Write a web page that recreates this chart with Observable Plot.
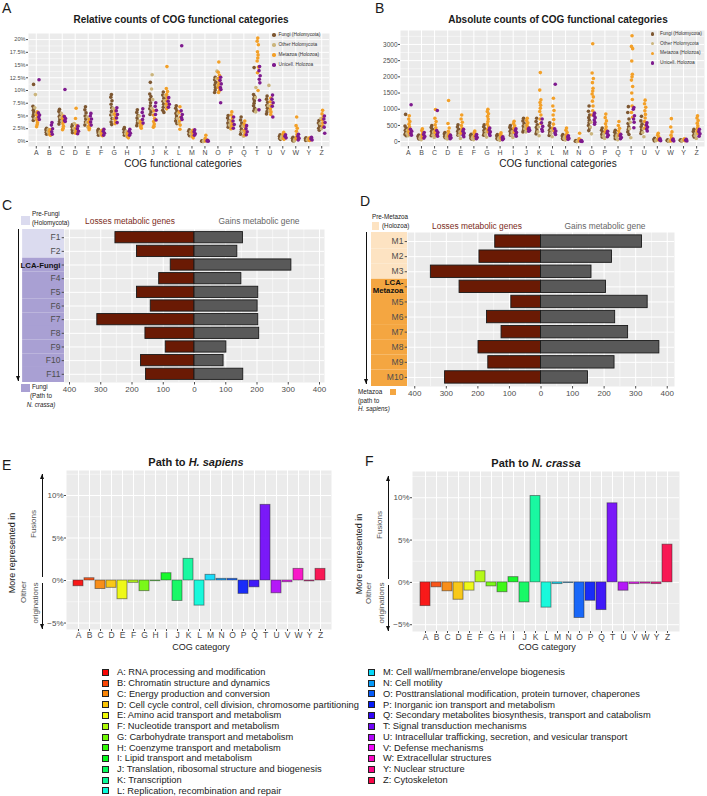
<!DOCTYPE html>
<html><head><meta charset="utf-8">
<script src="https://cdn.jsdelivr.net/npm/d3@7"></script>
<script src="https://cdn.jsdelivr.net/npm/@observablehq/plot@0.6"></script>
<style>
body{margin:0;background:#fff;font-family:"Liberation Sans",Arial,sans-serif;}
#root{position:relative;width:707px;height:796px;overflow:hidden;background:#fff;}
</style></head><body><div id="root"></div>
<script>
// ---------------- DATA ----------------
const cogCats = ["A","B","C","D","E","F","G","H","I","J","K","L","M","N","O","P","Q","T","U","V","W","Y","Z"];
const cogDescriptions = [
"RNA processing and modification","Chromatin structure and dynamics","Energy production and conversion",
"Cell cycle control, cell division, chromosome partitioning","Amino acid transport and metabolism",
"Nucleotide transport and metabolism","Carbohydrate transport and metabolism","Coenzyme transport and metabolism",
"Lipid transport and metabolism","Translation, ribosomal structure and biogenesis","Transcription",
"Replication, recombination and repair","Cell wall/membrane/envelope biogenesis","Cell motility",
"Posttranslational modification, protein turnover, chaperones","Inorganic ion transport and metabolism",
"Secondary metabolites biosynthesis, transport and catabolism","Signal transduction mechanisms",
"Intracellular trafficking, secretion, and vesicular transport","Defense mechanisms","Extracellular structures",
"Nuclear structure","Cytoskeleton"];
const groupNames = ["Fungi (Holomycota)","Other Holomycota","Metazoa (Holozoa)","Unicell. Holozoa"];

// Panel A: relative counts (%) per category, per group
const relFungi = [
[11.2,6.9,6.5,6.1,5.7,5.3,4.9,4.5,4.1],[2.6,2.3,2.0,1.8,1.6,1.4],[6.3,5.9,5.4,4.9,4.4,3.9,3.4],[3.3,2.9,2.6,2.3,2.0,1.7],
[6.8,6.2,5.6,5.0,4.4,3.8,3.2],[2.4,2.1,1.9,1.7,1.5,1.2],[9.2,8.7,8.0,7.3,6.6,5.9,5.2,4.5,3.8,3.3],[2.7,2.4,2.1,1.8,1.5,1.2],
[6.2,5.7,5.1,4.6,4.1,3.6,3.1],[11.6,9.3,8.8,8.2,7.6,7.0,6.4,5.8,5.3],[9.7,9.1,8.5,7.9,7.3,6.7,6.1,5.7],[7.0,6.5,6.0,5.5,5.0,4.5,4.0,3.5],
[2.3,2.0,1.7,1.4,1.1],[0.12,0.05,0.0],[12.6,12.1,11.6,11.1,10.6,10.1,9.6],[5.1,4.6,4.1,3.6,3.2,2.8],
[4.8,4.2,3.6,3.0,2.4,1.9,1.4],[14.5,9.2,8.8,8.4,8.0,7.5,7.0,6.5,6.0],[8.9,8.3,7.7,7.1,6.5,5.9,5.4],[1.3,1.0,0.8,0.6,0.4],
[0.8,0.6,0.4,0.2,0.1],[0.7,0.5,0.3,0.2],[4.1,3.6,3.1,2.6,2.2]];
const relOther = [
[9.2,6.6,5.4,4.5],[2.4,1.9,1.5],[5.5,4.7,4.0],[3.5,2.6,2.0],[4.8,3.7,2.8],[2.0,1.6,1.3],[6.5,5.3,4.5],[2.0,1.5,1.0],
[5.0,4.0,3.2],[13.1,10.3,8.2,6.5],[9.0,8.0,7.0],[5.5,4.5,3.6],[2.0,1.5,1.0],[0.2,0.0],[13.8,12.3,11.0],[4.0,3.2,2.5],
[3.0,2.0,1.0],[10.6,8.6,6.2,5.8],[11.0,7.0,6.0],[1.0,0.6],[0.4,0.1],[0.5,0.3],[4.5,3.5,2.5]];
const relMetazoa = [
[5.8,5.2,4.7,4.2,3.7,3.3,2.9],[2.3,2.0,1.7,1.4,1.2],[5.0,4.5,4.0,3.5,3.0,2.6,2.3],[6.5,4.5,3.1,2.6,2.2,1.8,1.6],
[4.3,3.8,3.4,3.0,2.6,2.3],[2.2,1.9,1.6,1.3,1.1],[6.0,5.4,4.9,4.4,3.9,3.5],[1.8,1.5,1.2,0.9,0.7],[4.0,3.6,3.2,2.9,2.6],
[6.0,5.2,4.5,3.9,3.4,3.0,2.8],[14.7,10.4,9.8,9.2,8.6,8.0,7.4,6.8,6.4],[6.8,5.8,4.8,4.0,3.2,2.4],[2.2,1.8,1.4,1.0,0.7],
[1.2,0.6,0.3,0.1],[15.6,13.6,13.0,12.4,11.8,11.2,10.6,10.0,9.6],[5.8,5.2,4.6,4.0,3.5,3.0,2.5],[4.0,3.4,2.8,2.2,1.6,1.2],
[20.3,19.7,19.0,17.6,17.0,16.4,15.8,14.6,13.5,10.0],[8.5,7.8,7.1,6.4,5.8,5.3],[1.8,1.4,1.0,0.6,0.4],
[4.8,3.1,2.6,2.0,1.4,0.9,0.5],[0.7,0.5,0.3,0.2],[6.1,5.4,4.8,4.2,3.6,3.0]];
const relUnicell = [
[12.1,5.6,5.2,4.8,4.3],[3.7,3.2,2.5,1.9,1.4],[10.2,4.9,4.5,4.1,3.9],[3.0,2.5,2.0,1.5],[5.5,5.0,4.4,3.8,3.2],[2.4,2.0,1.6,1.2],
[6.6,6.0,5.3,4.6,3.7],[2.4,2.0,1.6,1.2],[6.4,5.7,5.0,4.3,3.6],[7.6,6.9,6.1,5.3,4.2],[8.6,7.9,7.3,6.7],[18.8,6.0,5.3,4.7,4.3],
[2.3,1.9,1.5,1.2],[0.2,0.1,0.05],[12.6,12.0,11.3,10.6,10.2,7.6],[4.8,4.0,3.3,2.6],[3.1,2.5,1.9,1.3],
[14.7,13.9,12.9,12.2,11.5,8.1,6.2],[9.1,8.3,7.6,6.9,4.8],[1.3,1.0,0.7],[1.4,1.0,0.6,0.3],[0.8,0.5,0.3],[5.0,4.4,3.7,2.8,1.6]];

// Panel B: absolute counts per category, per group
const absFungi = [
[840,480,420,350,300,260,220,180],[200,170,140,110,80],[500,440,380,320,270,220,180],[280,240,200,160,120],
[520,450,380,320,260,200],[230,190,150,110,80],[520,460,400,340,290,240,200],[220,180,140,100,70],
[500,440,380,320,260,200],[720,640,560,480,420,360,300],[720,620,520,440,360,300,240],[580,500,420,350,290,240,190],
[220,180,140,100,70],[30,15,5],[1100,940,820,740,660,580,500,420,340],[420,350,290,230,180,140],[350,290,230,180,130,90],
[1080,900,700,560,460,380,300,220],[780,640,540,460,380,310,250],[100,75,50,25],[60,35,15],[60,40,20],[380,310,250,190,140]];
const absOther = [
[350,250,180],[150,100,60],[300,200,130],[200,130,80],[300,200,100],[150,100,60],[320,220,140],[120,80,40],[300,200,130],
[500,400,300],[450,300,180],[350,250,150],[150,100,50],[20,5],[600,450,240],[250,170,100],[200,130,60],[600,400,120],
[400,280,150],[60,30],[40,10],[40,20],[250,180,100]];
const absMetazoa = [
[800,700,620,540,460,380,300,220],[400,340,280,220,160,120],[990,720,620,520,430,350,280,200],[1270,560,420,320,240,170],
[820,700,600,500,410,330,260],[330,280,230,180,140],[1000,930,860,780,700,620,540,460,380,300],[270,220,170,120,90],
[630,560,490,420,350,280],[720,650,580,510,450,390],[2130,1590,1290,1210,1120,1030,930,820,700,560],
[1340,1100,960,820,680,540,420,330],[420,350,280,210,150,110],[260,90,50,20],
[3020,2120,1950,1820,1650,1560,1470,1380,1250,1100,950,820],[850,740,640,550,460,380,300],[620,500,410,330,250,180],
[3270,2940,2870,2490,2080,2000,1900,1700,1500,1300,1100,900,750],[1280,1170,1060,950,840,730,620,510,420],
[260,200,140,90,50],[710,450,300,200,120,60,20],[90,60,30],[800,730,650,570,490,410,330,250]];
const absUnicell = [
[1140,380,320,260,200],[280,220,160,110],[960,340,280,220,170],[200,160,120,90],[380,320,260,200,150],[220,170,130,90],
[420,360,300,240,190],[150,120,90,60],[400,340,280,220,170],[420,390,350,320],[700,580,470,380,320],[1770,400,330,270,220],
[180,140,100,70],[30,15,5],[880,810,740,670,600,540],[320,260,200,150],[230,180,130,90],[1050,1000,800,700,600,430],
[580,510,450,390,330],[90,60,30],[80,50,20],[70,40,20],[380,310,240,170]];

// Panel C: path to N. crassa
const fungiSteps = ["F1","F2","LCA-Fungi","F4","F5","F6","F7","F8","F9","F10","F11"];
const fungiLosses = [253,184,76,113,184,140,311,157,92,171,155];
const fungiGains  = [155,137,310,150,204,202,204,207,102,93,156];
const fungiPreCount = 2;
// Panel D: path to H. sapiens
const metazoaSteps = ["M1","M2","M3","LCA-\nMetazoa","M5","M6","M7","M8","M9","M10"];
const metazoaLosses = [145,195,349,258,94,171,125,198,167,304];
const metazoaGains  = [320,225,160,206,338,235,276,375,233,149];
const metazoaPreCount = 3;
// Panels E, F: % difference (fusions vs other originations)
const hsapiensPct = [-0.67,0.27,-1.0,-0.86,-2.2,-0.27,-1.25,-0.08,0.86,-2.4,2.55,-2.95,0.67,0.2,0.2,-1.57,-0.8,8.9,-1.5,-0.2,1.37,-0.1,1.37];
const ncrassaPct  = [-2.8,-0.58,-1.05,-2.05,-0.97,1.32,-0.47,-1.16,0.62,-2.36,10.2,-2.98,-0.2,-0.08,-4.2,-2.17,-3.27,9.34,-0.98,-0.2,-0.15,-0.2,4.46];

// ---------------- STYLE ----------------
const groupColors = ["#7d5731","#cbb57d","#f3a028","#7e1a8e"];
const rainbow = cogCats.map((c,i) => d3.hsl(i*360/cogCats.length, 0.95, 0.5).formatHex());
const panelBg = "#ebebeb", axisGray = "#4d4d4d";
const plotStyle = {background:"transparent", overflow:"visible", fontFamily:"Liberation Sans, Arial, sans-serif"};
const root = document.getElementById("root");

function place(svg, left, top){
  svg.style.position = "absolute"; svg.style.left = left+"px"; svg.style.top = top+"px";
  root.appendChild(svg); return svg;
}
function addText(html, x, y, o = {}) {
  const d = document.createElement("div");
  d.innerHTML = html;
  const tx = o.anchor === "middle" ? "-50%" : o.anchor === "end" ? "-100%" : "0";
  let t = `translate(${tx},-50%)`;
  if (o.rotate) t = `translate(-50%,-50%) rotate(${o.rotate}deg)`;
  Object.assign(d.style, {position:"absolute", left:x+"px", top:y+"px", transform:t, whiteSpace:"nowrap",
    lineHeight:"1.15", fontSize:(o.size||8)+"px", fontWeight:o.weight||"normal", color:o.color||"#1a1a1a",
    fontStyle:o.italic?"italic":"normal", textAlign:o.align||"left"});
  root.appendChild(d);
}
function addBox(x, y, w, h, fill, stroke) {
  const d = document.createElement("div");
  Object.assign(d.style, {position:"absolute", left:x+"px", top:y+"px", width:w+"px", height:h+"px",
    background:fill, boxSizing:"border-box", border: stroke ? `1px solid ${stroke}` : "none"});
  root.appendChild(d);
}
function addDot(x, y, r, fill) {
  const d = document.createElement("div");
  Object.assign(d.style, {position:"absolute", left:(x-r)+"px", top:(y-r)+"px", width:2*r+"px", height:2*r+"px",
    borderRadius:"50%", background:fill});
  root.appendChild(d);
}
function vArrow(x, yFrom, yTo, color = "#111") {
  const top = Math.min(yFrom, yTo), h = Math.abs(yTo - yFrom);
  const line = document.createElement("div");
  Object.assign(line.style, {position:"absolute", left:(x-0.5)+"px", top:top+"px", width:"0", height:h+"px", borderLeft:`1px solid ${color}`});
  root.appendChild(line);
  const down = yTo > yFrom;
  const head = document.createElement("div");
  Object.assign(head.style, {position:"absolute", left:(x-2.5)+"px", top:(down ? yTo-5 : yTo)+"px", width:"0", height:"0",
    borderLeft:"2.5px solid transparent", borderRight:"2.5px solid transparent"});
  if (down) head.style.borderTop = `5px solid ${color}`; else head.style.borderBottom = `5px solid ${color}`;
  root.appendChild(head);
}

const whiteMajor = {stroke:"white", strokeOpacity:1, strokeWidth:1};
const whiteMinor = {stroke:"white", strokeOpacity:1, strokeWidth:0.5};

// ---------------- PANELS A, B ----------------
const groupShift = [-0.21,-0.07,0.07,0.21];
const jitterSteps = [0,-0.045,0.045,-0.022,0.022];
function dotPlot(series, o) {
  const data = [];
  series.forEach((perCat, g) => perCat.forEach((vals, ci) => vals.forEach((v, j) =>
    data.push({group: groupNames[g], pos: ci + groupShift[g] + jitterSteps[j % jitterSteps.length], v}))));
  return Plot.plot({
    width:o.width, height:o.height, marginLeft:o.ml, marginRight:o.mr, marginTop:o.mt, marginBottom:o.mb,
    style: plotStyle,
    x:{domain:[-0.6, cogCats.length - 0.4], axis:null, label:null},
    y:{domain:o.yDomain, axis:null, label:null},
    color:{domain:groupNames, range:groupColors},
    marks:[
      Plot.frame({fill:panelBg, stroke:"none"}),
      Plot.gridY(o.minor, whiteMinor),
      Plot.gridY(o.major, whiteMajor),
      Plot.gridX(d3.range(cogCats.length), whiteMajor),
      Plot.axisY(o.major, {tickFormat:o.fmt, tickSize:2, tickPadding:1, fontSize:o.yFont, color:axisGray, label:null}),
      Plot.axisX(d3.range(cogCats.length), {tickFormat:i => cogCats[i], tickSize:2.5, tickPadding:1.5, fontSize:7, color:axisGray, label:null}),
      Plot.dot(data, {x:"pos", y:"v", fill:"group", r:1.8})
    ]
  });
}
place(dotPlot([relFungi, relOther, relMetazoa, relUnicell], {
  width:335, height:150, ml:28, mr:6, mt:8, mb:29, yDomain:[-1, 21.2],
  major:d3.range(0, 20.1, 2.5), minor:d3.range(1.25, 20, 2.5), fmt:d => d + "%", yFont:5.6}), 0, 25);
place(dotPlot([absFungi, absOther, absMetazoa, absUnicell], {
  width:357, height:150, ml:50, mr:3, mt:5, mb:29, yDomain:[-150, 3430],
  major:d3.range(0, 3001, 500), minor:d3.range(250, 3400, 500), fmt:d => String(d), yFont:6.5}), 350, 25);

// ---------------- PANELS C, D ----------------
function pyramid(steps, losses, gains, preCount, bandColors, o) {
  const n = steps.length;
  const rows = steps.map((s, i) => ({i, loss:losses[i], gain:gains[i], phase: i < preCount ? "pre" : "main"}));
  const major = d3.range(-400, 401, 100), minor = d3.range(-350, 351, 100);
  const svg = Plot.plot({
    width:o.width, height:o.height, marginLeft:o.ml, marginRight:o.mr, marginTop:o.mt, marginBottom:o.mb,
    style: plotStyle,
    x:{domain:[-o.xLim, o.xLim], axis:null, label:null},
    y:{domain:[-0.6, n - 0.4], reverse:true, axis:null, label:null},
    color:{domain:["pre","main"], range:bandColors},
    marks:[
      Plot.frame({fill:panelBg, stroke:"none"}),
      Plot.rect(rows, {x1:() => o.bandX1, x2:() => -o.xLim,
        y1:d => d.i === 0 ? -0.6 : d.i - 0.5, y2:d => d.i === n - 1 ? n - 0.4 : d.i + 0.5, fill:"phase"}),
      Plot.gridX(minor, whiteMinor),
      Plot.gridX(major, whiteMajor),
      Plot.gridY(d3.range(n), whiteMajor),
      Plot.rect(rows, {x1:d => -d.loss, x2:() => 0, y1:d => d.i - 0.41, y2:d => d.i + 0.41,
        fill:"#6a1a04", stroke:"#1a1a1a", strokeWidth:0.9}),
      Plot.rect(rows, {x1:() => 0, x2:"gain", y1:d => d.i - 0.41, y2:d => d.i + 0.41,
        fill:"#595959", stroke:"#1a1a1a", strokeWidth:0.9}),
      Plot.axisX(major, {tickFormat:d => Math.abs(d), tickSize:2.5, tickPadding:1.5, fontSize:8, color:axisGray, label:null}),
      Plot.axisY(d3.range(n), {tickFormat:i => steps[i], tickSize:2.3, tickPadding:1.8, fontSize:8.5, color:axisGray, label:null})
    ]
  });
  d3.select(svg).selectAll("text").filter(function(){ return this.textContent.startsWith("LCA"); })
    .attr("font-weight","bold").attr("fill","#111").attr("font-size", o.lcaSize);
  return svg;
}
place(pyramid(fungiSteps, fungiLosses, fungiGains, fungiPreCount, ["#dbdbef","#a9a0d3"],
  {width:330, height:210, ml:64, mr:6, mt:29, mb:28, xLim:416, bandX1:-550, lcaSize:7.8}), 0, 200);
place(pyramid(metazoaSteps, metazoaLosses, metazoaGains, metazoaPreCount, ["#fde3c2","#f4a641"],
  {width:330, height:212, ml:52, mr:11, mt:32, mb:26, xLim:423, bandX1:-537, lcaSize:7.8}), 355, 200);

// ---------------- PANELS E, F ----------------
function pathPlot(values, o) {
  const data = cogCats.map((c, i) => ({cat:c, v:values[i]}));
  return Plot.plot({
    width:o.width, height:o.height, marginLeft:o.ml, marginRight:o.mr, marginTop:o.mt, marginBottom:o.mb,
    style: plotStyle,
    x:{domain:cogCats, paddingInner:0.1, paddingOuter:0.15, axis:null, label:null},
    y:{domain:o.yDomain, axis:null, label:null},
    color:{domain:cogCats, range:rainbow},
    marks:[
      Plot.frame({fill:panelBg, stroke:"none"}),
      Plot.gridY([-2.5, 2.5, 7.5, 12.5], whiteMinor),
      Plot.gridY([-5, 0, 5, 10], whiteMajor),
      Plot.gridX(cogCats, whiteMajor),
      Plot.barY(data, {x:"cat", y:"v", fill:"cat", fillOpacity:0.92, stroke:"#2a2a2a", strokeOpacity:0.55, strokeWidth:0.9}),
      Plot.axisX(cogCats, {tickSize:2, tickPadding:0.5, fontSize:8.5, color:axisGray, label:null}),
      Plot.axisY([-5, 0, 5, 10], {tickFormat:d => (d < 0 ? "\u2212" : "") + Math.abs(d) + "%", tickSize:2, tickPadding:1, fontSize:8, color:axisGray, label:null})
    ]
  });
}
place(pathPlot(hsapiensPct, {width:340, height:190, ml:66, mr:9, mt:5, mb:26, yDomain:[-5.76, 12.94]}), 0, 465);
place(pathPlot(ncrassaPct, {width:340, height:190, ml:57, mr:16, mt:6, mb:24, yDomain:[-5.8, 13.1]}), 355, 465);

// ---------------- TEXT / ANNOTATIONS ----------------
// Panel letters
addText("A", 2, 8, {size:14}); addText("B", 375, 8, {size:14});
addText("C", 2, 205, {size:14}); addText("D", 360, 201, {size:14});
addText("E", 2, 465, {size:14}); addText("F", 365, 461, {size:14});

// A & B titles
addText("Relative counts of COG functional categories", 181, 20, {anchor:"middle", size:10, weight:"bold"});
addText("Absolute counts of COG functional categories", 558, 20, {anchor:"middle", size:10, weight:"bold"});
addText("COG functional categories", 183, 164, {anchor:"middle", size:10});
addText("COG functional categories", 558, 164, {anchor:"middle", size:10});
groupNames.forEach((g, i) => {
  addDot(274, 35 + 10*i, 1.7, groupColors[i]); addText(g, 278.5, 35 + 10*i, {size:4.8, color:"#333"});
  addDot(652.5, 34 + 9.7*i, 1.7, groupColors[i]); addText(g, 660, 34 + 9.7*i, {size:4.8, color:"#333"});
});

// C annotations
addBox(21, 216, 9, 8.5, "#dbdbef");
addText("Pre-Fungi", 32, 214, {size:6.3}); addText("(Holomycota)", 32, 222.5, {size:6.3});
addText("Losses metabolic genes", 130, 222, {anchor:"middle", size:8.4, color:"#7b2b1a"});
addText("Gains metabolic gene", 259, 222, {anchor:"middle", size:8.4, color:"#666"});
vArrow(18, 229, 381);
addBox(21, 383.5, 8.5, 8.5, "#a9a0d3");
addText("Fungi", 32, 387, {size:6.3});
addText("(Path to", 41, 396, {anchor:"middle", size:6.3});
addText("N. crassa)", 41, 405, {anchor:"middle", size:6.3, italic:true});

// D annotations
addText("Pre-Metazoa", 372, 217, {size:6.3});
addBox(372, 222, 7, 7.5, "#fde3c2"); addText("(Holozoa)", 382, 225.5, {size:6.3});
addText("Losses metabolic genes", 477, 227, {anchor:"middle", size:8.4, color:"#7b2b1a"});
addText("Gains metabolic gene", 605, 227, {anchor:"middle", size:8.4, color:"#666"});
vArrow(366, 232, 384);
addText("Metazoa", 358, 392, {size:6.3}); addBox(389.5, 388.5, 6.5, 6.5, "#f4a641");
addText("(path to", 358, 400.5, {size:6.3});
addText("H. sapiens)", 358, 409, {size:6.3, italic:true});

// E annotations
addText("Path to <i>H. sapiens</i>", 196, 462, {anchor:"middle", size:11, weight:"bold"});
addText("More represented in", 12, 553, {rotate:-90, size:9});
addText("Fusions", 34, 524, {rotate:-90, size:8, color:"#555"});
addText("Olther", 24, 592, {rotate:-90, size:8, color:"#555"});
addText("originations", 35.5, 603, {rotate:-90, size:8, color:"#555"});
vArrow(42, 577, 474); vArrow(42, 583, 629);
addText("COG category", 201, 647, {anchor:"middle", size:9});

// F annotations
addText("Path to <i>N. crassa</i>", 536, 463, {anchor:"middle", size:11, weight:"bold"});
addText("More represented in", 359, 554, {rotate:-90, size:9});
addText("Fusions", 380, 525, {rotate:-90, size:8, color:"#555"});
addText("Olther", 369, 593, {rotate:-90, size:8, color:"#555"});
addText("originations", 381.5, 603, {rotate:-90, size:8, color:"#555"});
vArrow(388, 579, 476); vArrow(388, 585, 631);
addText("COG category", 547, 647, {anchor:"middle", size:9});

// Colour legend (bottom)
cogCats.forEach((c, i) => {
  const left = i < 12;
  const row = left ? i : i - 12;
  const y = 672.3 + row * 10.77;
  const bx = left ? 101.5 : 368, tx = left ? 117 : 383;
  addBox(bx, y - 3.4, 7, 7, rainbow[i], "#222");
  addText(`${c}: ${cogDescriptions[i]}`, tx, y, {size:9.3, color:"#222"});
});
</script></body></html>
